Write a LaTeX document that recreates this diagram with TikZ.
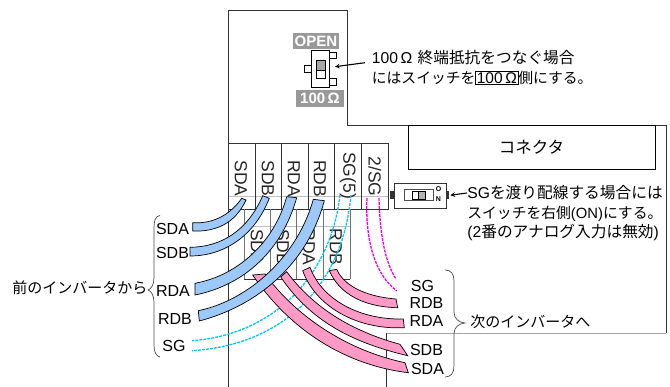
\documentclass[tikz,border=0pt]{standalone}
\usepackage{fontspec}
\setmainfont{Liberation Sans}
\newfontfamily\cjk{Noto Sans CJK JP}
\usetikzlibrary{arrows}
\definecolor{bandblue}{HTML}{9CC9FA}
\definecolor{bandpink}{HTML}{FF99C6}
\definecolor{sgcyan}{HTML}{00C8F5}
\definecolor{sgmagenta}{HTML}{F000E8}
\definecolor{tagbg}{HTML}{999999}
\setlength{\fboxsep}{0.8pt}
\setlength{\fboxrule}{0.6pt}
\begin{document}
\begin{tikzpicture}[> = stealth, % arrow head style
                x = 1pt, y = -1pt, % same units as the pixels of the sheet
                line width = 0.7pt % line style
            ]

            \tikzstyle{every node}=[inner sep = 0pt, font = \fontsize{16}{18}\selectfont]
            \tikzstyle{txt}=[anchor = west]
            \tikzstyle{note}=[anchor = west, font = \fontsize{15.7}{18}\selectfont]
            \tikzstyle{term}=[rotate = -90, text = black!85, font = \fontsize{17.5}{18}\selectfont]
            \tikzstyle{tag}=[fill = tagbg, text = white, font = \bfseries\fontsize{15}{18}\selectfont]
            \tikzstyle{tab}=[draw = black, fill = white]
            \tikzstyle{pointer}=[->, black, line width = 1.1pt]
            \tikzstyle{blueband}=[draw = black, fill = bandblue]
            \tikzstyle{pinkband}=[draw = black, fill = bandpink]
            \tikzstyle{cyanwire}=[sgcyan, dash pattern = on 3pt off 1pt, line width = 1.3pt]
            \tikzstyle{magwire}=[sgmagenta, dash pattern = on 3pt off 1pt, line width = 1.3pt]

            \useasboundingbox (0,0) rectangle (670,387);

            % case outline
            \draw[black!80] (228,387) -- (228,10) -- (347.5,10) -- (347.5,125.5) -- (666,125.5) -- (666,333);
            \draw[black!35] (666,333) -- (386,333);
            \draw[black!80] (386,333) -- (386,387);
            \node (conn) [draw = black, minimum width = 247pt, minimum height = 44pt,
                font = \fontsize{16.5}{18}\selectfont] at (531.5,147.5) {\cjk コネクタ};

            % terminal blocks
            \draw[black!25] (244,226.5) -- (350,226.5);
            \draw[black!25] (228,196) -- (388,196);
            \draw[black!80] (228,143) rectangle (388,209);
            \draw[black!80] (255,143) -- (255,209) (281.5,143) -- (281.5,209) (308,143) -- (308,209)
                (334.5,143) -- (334.5,209) (361,143) -- (361,209);
            \draw[black!55] (244,209) -- (244,279) (270,209) -- (270,279) (296.5,209) -- (296.5,279)
                (323,209) -- (323,279) (350,209) -- (350,279);
            \draw[black!80] (244,279) -- (350,279);

            \node (t1) [term] at (241,178.5) {SDA}; \node (t2) [term] at (268,178.5) {SDB};
            \node (t3) [term] at (294,178.5) {RDA}; \node (t4) [term] at (320,178.5) {RDB};
            \node (t5) [term] at (348,175.5) {SG(5)}; \node (t6) [term] at (375,176.5) {2/SG};
            \node (b1) [term] at (257,247) {SDA}; \node (b2) [term] at (283,247) {SDB};
            \node (b3) [term] at (309,247) {RDA}; \node (b4) [term] at (336,247) {RDB};

            % signal ground wires
            \coordinate (cyana) at (340,195); \coordinate (cyanb) at (351,195);
            \coordinate (cyanc) at (192,340.7); \coordinate (cyand) at (192,350.7);
            \coordinate (maga) at (367,198); \coordinate (magb) at (379,198);
            \coordinate (magc) at (397,291); \coordinate (magd) at (396,279);
            \draw[cyanwire] (cyana) .. controls (330,280) and (270,335) .. (cyanc);
            \draw[cyanwire] (cyanb) .. controls (342,290) and (280,345) .. (cyand);
            \draw[magwire] (maga) .. controls (365,240) and (375,275) .. (magc);
            \draw[magwire] (magb) .. controls (380,235) and (385,262) .. (magd);

            % outgoing cables
            \draw[pinkband] (336.7,269.3) .. controls (345,288) and (370,297) .. (396,299) -- (397.7,307.7)
                .. controls (365,307) and (340,295) .. (329.3,270.7) -- cycle;
            \draw[pinkband] (310,267.3) .. controls (322,300) and (360,320) .. (403.3,319) -- (404.3,327.7)
                .. controls (355,330) and (315,305) .. (302.7,270.7) -- cycle;
            \draw[pinkband] (286.7,271.7) .. controls (315,310) and (355,332) .. (400,344.3) -- (407.7,355.7)
                .. controls (350,342) and (310,320) .. (280.7,277) -- cycle;
            \draw[pinkband] (265,274) .. controls (295,315) and (345,350) .. (405,362.7) -- (408.3,372.7)
                .. controls (345,365) and (290,330) .. (252.7,275) -- cycle;

            % incoming cables
            \draw[blueband] (246,200) .. controls (235,224) and (215,232) .. (192.7,231) -- (192.7,222.7)
                .. controls (213,224) and (230,215) .. (241.7,198.3) -- cycle;
            \draw[blueband] (269.3,198.3) .. controls (255,235) and (225,256) .. (190,256) -- (190,247.3)
                .. controls (222,247) and (248,230) .. (262.7,195.7) -- cycle;
            \draw[blueband] (296.7,197.7) .. controls (282,250) and (245,285) .. (195,295) -- (195,283.3)
                .. controls (240,275) and (275,240) .. (286.7,196.7) -- cycle;
            \draw[blueband] (324.3,200.7) .. controls (308,262) and (260,305) .. (199.3,321) -- (198.3,310.7)
                .. controls (250,300) and (298,255) .. (313.3,199.3) -- cycle;

            % left labels
            \node (l1) at (172.5,229) {SDA}; \node (l2) at (172.5,253) {SDB};
            \node (l3) at (173,291) {RDA}; \node (l4) at (175,319) {RDB};
            \node (l5) at (174,346) {SG};
            \node (from) [font = \fontsize{15}{18}\selectfont] at (80,288) {\cjk 前のインバータから};
            \draw[black!70] (160,215.5) .. controls (155,216) and (154,221) .. (154,230) -- (154,278)
                .. controls (154,285) and (151,289) .. (148,290) .. controls (151,291) and (154,295) .. (154,302)
                -- (154,345) .. controls (154,352) and (156,356) .. (160,357);

            % right labels
            \node (r1) at (422.5,286) {SG}; \node (r2) at (426.5,303) {RDB};
            \node (r3) at (426.5,321) {RDA}; \node (r4) at (426.5,350) {SDB};
            \node (r5) at (427.5,369) {SDA};
            \node (to) [txt, font = \fontsize{15}{18}\selectfont] at (470,322) {\cjk 次のインバータへ};
            \draw[black!70] (445,270) .. controls (451,270) and (454,274) .. (454,281) -- (454,312)
                .. controls (454,319) and (459,322.5) .. (465,323) .. controls (459,323.5) and (454,327) .. (454,334)
                -- (454,366) .. controls (454,373) and (451,377) .. (445,377);

            % terminator switch
            \node (open) [tag, minimum width = 46pt, minimum height = 16.5pt] at (316,41) {OPEN};
            \node (ohm) [tag, minimum width = 48pt, minimum height = 17pt] at (320,98.5) {100\,Ω};
            \draw[tab] (329.5,52.3) rectangle (336.7,58.3);
            \draw[tab] (329.5,78.5) rectangle (336.7,85);
            \draw[tab] (304.3,65.7) rectangle (311.7,72.3);
            \node (sw1) [draw = black, fill = white, minimum width = 17.6pt, minimum height = 36.6pt] at (320.5,69) {};
            \draw[fill = black!35] (316,60.7) rectangle (325.3,70);
            \draw[fill = white] (316,70) rectangle (325.3,78.3);

            \node (note1) [note] at (371.5,58) {100\,Ω\,\,\cjk 終端抵抗をつなぐ場合};
            \node (note2) [note, font = \fontsize{14.8}{18}\selectfont] at (371.5,78)
                {\cjk にはスイッチを\rm\fbox{\fontsize{15.5}{18}\selectfont 100\,Ω}\cjk 側にする。};
            \coordinate (note1a) at (365,62.7); \coordinate (sw1tip) at (335,66.7);
            \draw[pointer] (note1a) -- (sw1tip);

            % ground switch
            \draw[tab, black!80] (390,191.7) rectangle (394,198);
            \draw[tab, black!80] (446,191.7) rectangle (448.5,198);
            \node (sw2) [draw = black!80, fill = white, minimum width = 52pt, minimum height = 25pt] at (420,195.7) {};
            \draw[black!70, fill = white, line width = 1pt] (404.5,190) rectangle (433,200.5);
            \draw[black, fill = white] (412,191.5) rectangle (418,199);
            \draw[black, fill = black!30] (418,191.5) rectangle (425,199);
            \node (o) [font = \bfseries\fontsize{7}{8}\selectfont] at (438.5,189.5) {O};
            \node (n) [font = \bfseries\fontsize{7}{8}\selectfont] at (438.5,199.5) {N};

            \node (note3) [note] at (467,193) {SG\cjk を渡り配線する場合には};
            \node (note4) [note, font = \fontsize{14.8}{18}\selectfont] at (467,213.5) {\cjk スイッチを右側\rm(ON)\cjk にする。};
            \node (note5) [note] at (467,232.5) {\rm(2\cjk 番のアナログ入力は無効\rm)};
            \draw[pointer, shorten > = 4pt] (note3.west) -- (sw2.east);
        \end{tikzpicture}
\end{document}
